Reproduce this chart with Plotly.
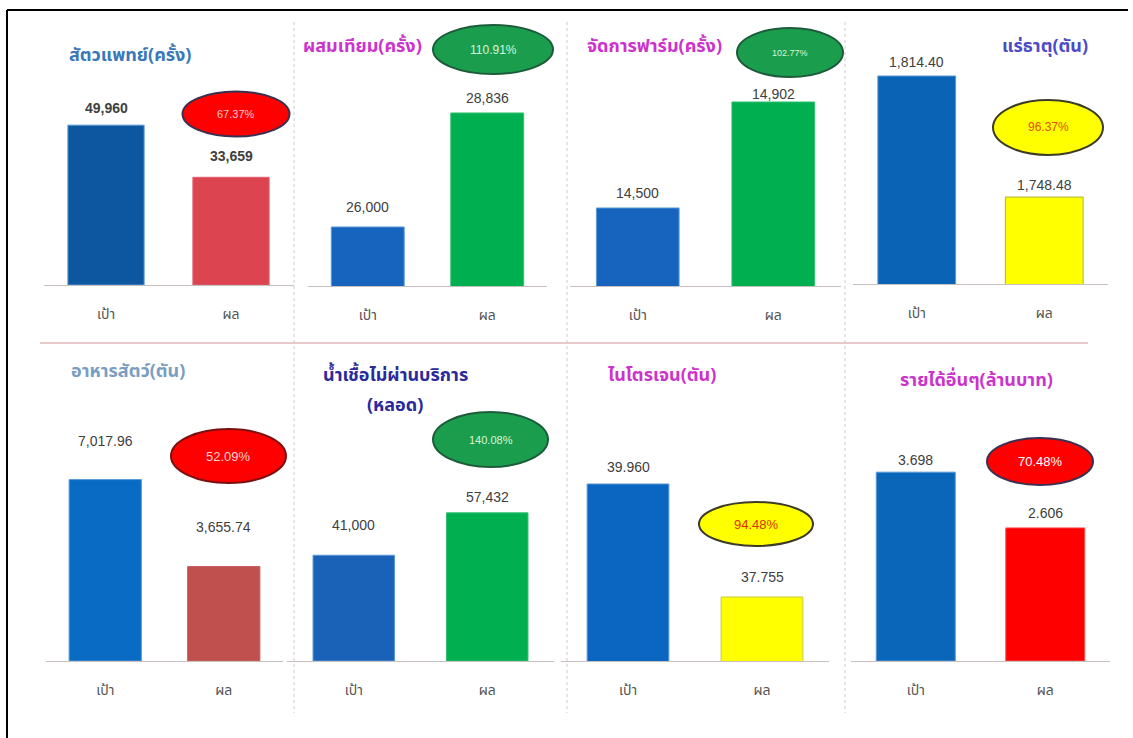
import plotly.graph_objects as go

# ---------------- data ----------------
titles = ["สัตวแพทย์(ครั้ง)", "ผสมเทียม(ครั้ง)", "จัดการฟาร์ม(ครั้ง)", "แร่ธาตุ(ตัน)",
          "อาหารสัตว์(ตัน)", "น้ำเชื้อไม่ผ่านบริการ<br>(หลอด)", "ไนโตรเจน(ตัน)", "รายได้อื่นๆ(ล้านบาท)"]
categories = ["เป้า", "ผล"]
target = [49960, 26000, 14500, 1814.40, 7017.96, 41000, 39.960, 3.698]
result = [33659, 28836, 14902, 1748.48, 3655.74, 57432, 37.755, 2.606]
target_labels = ["49,960", "26,000", "14,500", "1,814.40", "7,017.96", "41,000", "39.960", "3.698"]
result_labels = ["33,659", "28,836", "14,902", "1,748.48", "3,655.74", "57,432", "37.755", "2.606"]
pct_labels = ["67.37%", "110.91%", "102.77%", "96.37%", "52.09%", "140.08%", "94.48%", "70.48%"]

# ---------------- layout / style ----------------
W, H = 1133, 738
def px(x):
    return x / W
def py(y):
    return 1 - y / H

# x-domain in px, baseline px, domain-top px, y-range
panels = [
    dict(x0=43.5, x1=293.5, base=285, top=20, yr=[0, 82812]),
    dict(x0=308, x1=547, base=286, top=20, yr=[24532, 31149]),
    dict(x0=570, x1=841, base=286, top=20, yr=[14204, 15213]),
    dict(x0=853, x1=1108, base=284, top=20, yr=[1701.1, 1844.9]),
    dict(x0=46, x1=283, base=661, top=360, yr=[0, 11644]),
    dict(x0=287, x1=554, base=661, top=360, yr=[0, 116667]),
    dict(x0=561, x1=829, base=661, top=360, yr=[36.506, 42.379]),
    dict(x0=851, x1=1110, base=661, top=360, yr=[0, 5.894]),
]
target_colors = ["#0d57a0", "#1664bd", "#1664bd", "#0a63b5", "#0a6bc4", "#1a62b8", "#0a66c0", "#0a66b8"]
result_colors = ["#dc4450", "#00b050", "#00b050", "#ffff00", "#c0504d", "#00b050", "#ffff00", "#ff0000"]
result_line = ["#e06070", "#30c070", "#30c070", "#b0b040", "#c86060", "#30c070", "#c8c840", "#ff5050"]
tgt_shift = [17, 20, 15, 14, 39, 30, 17, 12]
res_shift = [21, 15, 8, 12, 40, 16, 20, 15]
label_bold = [True, False, False, False, False, False, False, False]

title_pos = [[(130, 55)], [(362, 47)], [(654, 46)], [(1045, 47)], [(128, 371)],
             [(395, 375), (395, 405)], [(662, 375)], [(976, 380)]]
title_colors = ["#3b78b8", "#cc33cc", "#cc33cc", "#4b4bc8", "#7b9dc2", "#2a2a9a", "#cc33cc", "#cc33cc"]

badges = [  # cx, cy, w, h, fill, border, text color, font size
    (236, 114, 107, 45, "#ff0000", "#3a3050", "#ffc8c8", 11),
    (493, 49.5, 120, 49, "#1a9e4e", "#1d5c3a", "#d8f5d8", 12),
    (790, 52.5, 106, 49, "#1a9e4e", "#1d5c3a", "#d8f5d8", 9),
    (1048, 127.5, 110, 55, "#ffff00", "#3c3c28", "#e05000", 12),
    (228.5, 456, 115, 54, "#ff0000", "#7a1010", "#ffd0d0", 13),
    (490.5, 439.5, 115, 55, "#1a9e4e", "#1d5c3a", "#d8f5d8", 11),
    (756, 524, 114, 44, "#ffff00", "#3c3c28", "#e03000", 13),
    (1040, 461.5, 106, 47, "#ff0000", "#3a3050", "#ffffff", 13),
]

thai_font = "Noto Sans Thai, Noto Sans, DejaVu Sans, sans-serif"
num_font = "Liberation Sans, Arial, sans-serif"

fig = go.Figure()
annotations = []
shapes = []

for i, p in enumerate(panels):
    n = "" if i == 0 else str(i + 1)
    xa, ya = "x" + n, "y" + n
    fig.add_trace(go.Bar(
        x=[0, 1], y=[target[i], result[i]], width=0.61,
        marker=dict(color=[target_colors[i], result_colors[i]],
                    line=dict(color=["#5a9ad8", result_line[i]], width=1)),
        xaxis=xa, yaxis=ya, showlegend=False, hoverinfo="skip",
    ))
    fig.layout["xaxis" + n] = dict(
        domain=[px(p["x0"]), px(p["x1"])], anchor=ya, range=[-0.5, 1.5],
        tickvals=[0, 1], ticktext=categories, showgrid=False, zeroline=False,
        showline=True, linecolor="#c8c0c0", linewidth=1,
        ticks="outside", ticklen=16, tickcolor="rgba(0,0,0,0)",
        tickfont=dict(family=thai_font, size=14, color="#555555"), fixedrange=True)
    fig.layout["yaxis" + n] = dict(
        domain=[py(p["base"]), py(p["top"])], anchor=xa, range=p["yr"],
        visible=False, showgrid=False, zeroline=False, fixedrange=True)
    for xi, val, lab, sh in [(0, target[i], target_labels[i], tgt_shift[i]),
                             (1, result[i], result_labels[i], res_shift[i])]:
        txt = "<b>" + lab + "</b>" if label_bold[i] else lab
        annotations.append(dict(x=xi, y=val, xref=xa, yref=ya, text=txt, showarrow=False,
                                xanchor="center", yanchor="middle", yshift=sh,
                                font=dict(family=num_font, size=14, color="#404040")))
    for line_text, (tx, ty) in zip(titles[i].split("<br>"), title_pos[i]):
        annotations.append(dict(x=px(tx), y=py(ty), xref="paper", yref="paper", text="<b>" + line_text + "</b>",
                                showarrow=False, xanchor="center", yanchor="middle",
                                font=dict(family=thai_font, size=18, color=title_colors[i])))
    cx, cy, bw, bh, fill, border, tc, fs = badges[i]
    shapes.append(dict(type="circle", xref="paper", yref="paper",
                       x0=px(cx - bw / 2), x1=px(cx + bw / 2), y0=py(cy + bh / 2), y1=py(cy - bh / 2),
                       fillcolor=fill, line=dict(color=border, width=2), layer="above"))
    annotations.append(dict(x=px(cx), y=py(cy), xref="paper", yref="paper", text=pct_labels[i],
                            showarrow=False, xanchor="center", yanchor="middle",
                            font=dict(family=num_font, size=fs, color=tc)))

# frame
shapes.append(dict(type="line", xref="paper", yref="paper", x0=px(7), x1=px(7), y0=py(10), y1=0,
                   line=dict(color="black", width=2)))
shapes.append(dict(type="line", xref="paper", yref="paper", x0=px(7), x1=px(1128), y0=py(10), y1=py(10),
                   line=dict(color="black", width=2)))
# dividers
for xv in [294, 567, 845]:
    shapes.append(dict(type="line", xref="paper", yref="paper", x0=px(xv), x1=px(xv), y0=py(22), y1=py(713),
                       line=dict(color="#d4caca", width=1, dash="dot"), layer="below"))
shapes.append(dict(type="line", xref="paper", yref="paper", x0=px(40), x1=px(1088), y0=py(343), y1=py(343),
                   line=dict(color="#e2b8b8", width=1.5), layer="below"))

fig.update_layout(
    width=W, height=H, margin=dict(l=0, r=0, t=0, b=0),
    paper_bgcolor="white", plot_bgcolor="rgba(0,0,0,0)",
    annotations=annotations, shapes=shapes, bargap=0.3,
)

fig.write_html("out.html", include_plotlyjs=True, config={"displayModeBar": False},
               post_script="document.body.style.margin='0';document.body.style.overflow='hidden';")
